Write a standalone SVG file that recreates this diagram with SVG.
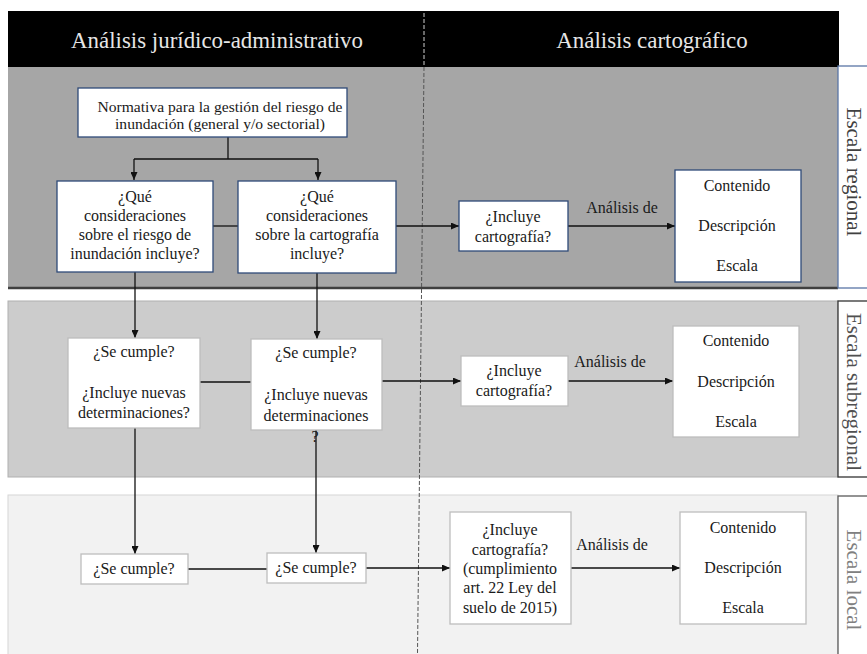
<svg xmlns="http://www.w3.org/2000/svg" width="867" height="654" viewBox="0 0 867 654" font-family="'Liberation Serif', 'Times New Roman', Tinos, 'DejaVu Serif', serif">
<defs>
<marker id="arr" markerWidth="8" markerHeight="7" refX="8" refY="3.5" orient="auto" markerUnits="userSpaceOnUse">
<path d="M0,0 L8,3.5 L0,7 z" fill="#111"/>
</marker>
<style>
text{font-family:'Liberation Serif','Times New Roman',Tinos,'DejaVu Serif',serif}
.t{font-size:16px;fill:#1a1a1a;text-anchor:middle}
.tn{font-size:15.6px}
.hd{font-size:22.9px;fill:#e6e6e6;text-anchor:middle}
.vl{font-size:21px;text-anchor:middle}
.nr{fill:#fff;stroke:#2f4a78;stroke-width:1.3}
.ns{fill:#fff;stroke:#bdbdbd;stroke-width:1.3}
.c{fill:none;stroke:#111;stroke-width:1.3}
.ca{fill:none;stroke:#111;stroke-width:1.3;marker-end:url(#arr)}
</style>
</defs>
<rect width="867" height="654" fill="#fff"/>
<g id="bands">
<rect x="8" y="11" width="831" height="56" fill="#000"/>
<rect x="8" y="67" width="830" height="221" fill="#a6a6a6"/>
<line x1="8" y1="288" x2="838" y2="288" stroke="#3f3f3f" stroke-width="2.5"/>
<rect x="8" y="301" width="830" height="176" fill="#cccccc" stroke="#b0b0b0" stroke-width="1"/>
<rect x="8" y="495" width="830" height="170" fill="#f2f2f2" stroke="#d6d6d6" stroke-width="1"/>
<rect x="838" y="66" width="40" height="222" fill="#fff" stroke="#5a76a6" stroke-width="1.3"/>
<rect x="838" y="301" width="40" height="176" fill="#fff" stroke="#333" stroke-width="1.3"/>
<rect x="838" y="496" width="40" height="170" fill="#fff" stroke="#5a5a5a" stroke-width="1.3"/>
<text class="hd" x="217" y="48">Análisis jurídico-administrativo</text>
<text class="hd" x="652" y="48">Análisis cartográfico</text>
<text class="vl" fill="#404040" transform="translate(847,172) rotate(90)">Escala regional</text>
<text class="vl" fill="#505050" transform="translate(847,392) rotate(90)">Escala subregional</text>
<text class="vl" fill="#808080" transform="translate(847,580) rotate(90)">Escala local</text>
</g>
<g id="divider">
<line x1="424" y1="13" x2="424" y2="67" stroke="#cfcfcf" stroke-width="1" stroke-dasharray="4,2"/>
<line x1="424" y1="67" x2="417.5" y2="654" stroke="#555" stroke-width="1" stroke-dasharray="4,2"/>
</g>
<g id="connectors">
<path class="c" d="M228 137 V159 M134 159 H318"/>
<path class="ca" d="M134 159 V180"/>
<path class="ca" d="M318 159 V180"/>
<path class="c" d="M213 226 H238"/>
<path class="ca" d="M396 226 H459"/>
<path class="ca" d="M568 226 H675"/>
<path class="ca" d="M135 272 V338"/>
<path class="ca" d="M317 273 V339"/>
<path class="c" d="M200 382 H251"/>
<path class="ca" d="M382 381 H461"/>
<path class="ca" d="M568 381 H673"/>
<path class="ca" d="M135 428 V554"/>
<path class="ca" d="M316 430 V553"/>
<path class="c" d="M188 569 H267"/>
<path class="ca" d="M366 568 H450"/>
<path class="ca" d="M571 568 H680"/>
<text class="t" x="622" y="213">Análisis de</text>
<text class="t" x="610" y="367">Análisis de</text>
<text class="t" x="612" y="550">Análisis de</text>
</g>
<g id="normativa">
<rect class="nr" x="78" y="88" width="269" height="49"/>
<text class="t tn" x="220" y="112">Normativa para la gestión del riesgo de</text>
<text class="t tn" x="220" y="129">inundación (general y/o sectorial)</text>
</g>
<g id="q-riesgo">
<rect class="nr" x="57" y="181" width="156" height="91"/>
<text class="t" x="135" y="202">¿Qué</text>
<text class="t" x="135" y="221">consideraciones</text>
<text class="t" x="135" y="240">sobre el riesgo de</text>
<text class="t" x="135" y="259">inundación incluye?</text>
</g>
<g id="q-cartografia">
<rect class="nr" x="238" y="181" width="158" height="92"/>
<text class="t" x="317" y="202">¿Qué</text>
<text class="t" x="317" y="221">consideraciones</text>
<text class="t" x="317" y="240">sobre la cartografía</text>
<text class="t" x="317" y="259">incluye?</text>
</g>
<g id="incluye-regional">
<rect class="nr" x="459" y="201" width="109" height="50"/>
<text class="t" x="513" y="222">¿Incluye</text>
<text class="t" x="513" y="242">cartografía?</text>
</g>
<g id="contenido-regional">
<rect class="nr" x="675" y="170" width="126" height="112"/>
<text class="t" x="737" y="191">Contenido</text>
<text class="t" x="737" y="231">Descripción</text>
<text class="t" x="737" y="271">Escala</text>
</g>
<g id="cumple-sub-1">
<rect class="ns" x="68" y="338" width="132" height="90"/>
<text class="t" x="134" y="357">¿Se cumple?</text>
<text class="t" x="134" y="398">¿Incluye nuevas</text>
<text class="t" x="134" y="418">determinaciones?</text>
</g>
<g id="cumple-sub-2">
<rect class="ns" x="251" y="339" width="131" height="91"/>
<text class="t" x="316" y="358">¿Se cumple?</text>
<text class="t" x="316" y="400">¿Incluye nuevas</text>
<text class="t" x="316" y="421">determinaciones</text>
<text class="t" x="315" y="442">?</text>
</g>
<g id="incluye-subregional">
<rect class="ns" x="461" y="356" width="107" height="50"/>
<text class="t" x="514" y="376">¿Incluye</text>
<text class="t" x="514" y="396">cartografía?</text>
</g>
<g id="contenido-subregional">
<rect class="ns" x="673" y="326" width="126" height="111"/>
<text class="t" x="736" y="346">Contenido</text>
<text class="t" x="736" y="387">Descripción</text>
<text class="t" x="736" y="427">Escala</text>
</g>
<g id="cumple-local-1">
<rect class="ns" x="81" y="554" width="107" height="30"/>
<text class="t" x="134" y="574">¿Se cumple?</text>
</g>
<g id="cumple-local-2">
<rect class="ns" x="267" y="553" width="99" height="30"/>
<text class="t" x="316" y="573">¿Se cumple?</text>
</g>
<g id="incluye-local">
<rect class="ns" x="450" y="512" width="121" height="112"/>
<text class="t" x="510" y="535">¿Incluye</text>
<text class="t" x="510" y="555">cartografía?</text>
<text class="t" x="510" y="574">(cumplimiento</text>
<text class="t" x="510" y="593">art. 22 Ley del</text>
<text class="t" x="510" y="613">suelo de 2015)</text>
</g>
<g id="contenido-local">
<rect class="ns" x="680" y="512" width="126" height="112"/>
<text class="t" x="743" y="533">Contenido</text>
<text class="t" x="743" y="573">Descripción</text>
<text class="t" x="743" y="613">Escala</text>
</g>
</svg>
